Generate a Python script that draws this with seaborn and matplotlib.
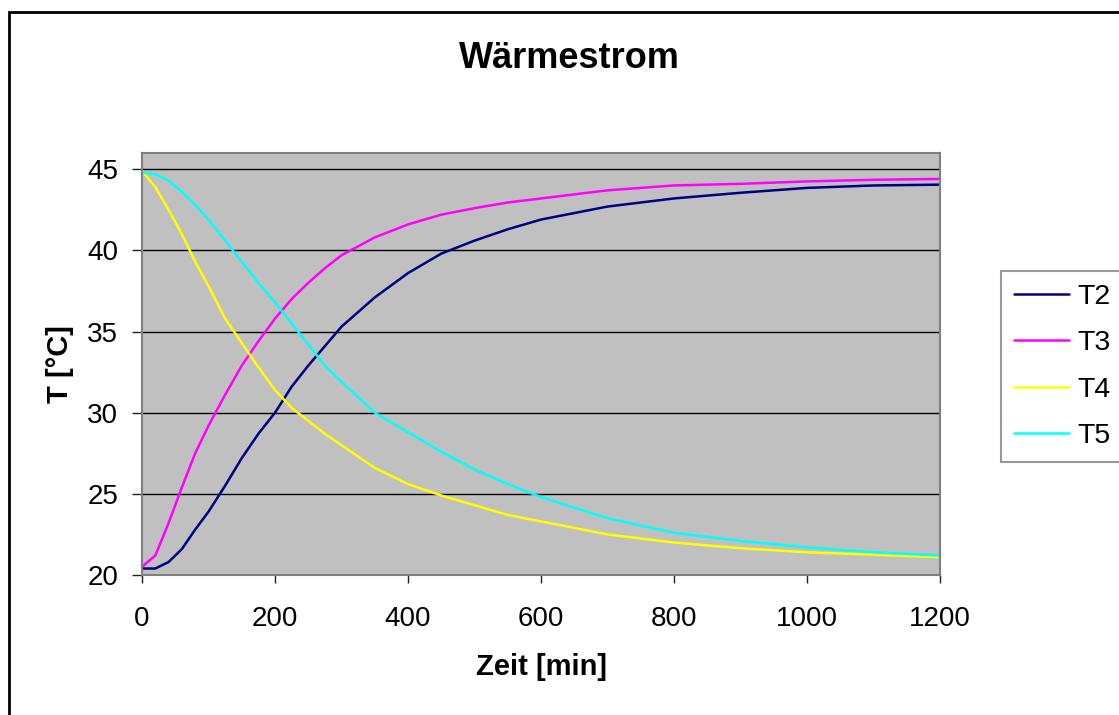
import matplotlib
matplotlib.use("Agg")
import matplotlib.pyplot as plt
import seaborn as sns
import pandas as pd
from matplotlib.patches import Rectangle

# ---- data ----
zeit = [0, 20, 40, 60, 80, 100, 125, 150, 175, 200, 225, 250, 275, 300,
        350, 400, 450, 500, 550, 600, 700, 800, 900, 1000, 1100, 1200]
T2 = [20.4, 20.4, 20.8, 21.6, 22.8, 23.9, 25.5, 27.2, 28.7, 30.0, 31.6, 32.9, 34.1, 35.3,
      37.1, 38.6, 39.8, 40.6, 41.3, 41.9, 42.7, 43.2, 43.55, 43.85, 44.0, 44.05]
T3 = [20.5, 21.2, 23.2, 25.4, 27.5, 29.2, 31.1, 32.9, 34.4, 35.8, 37.0, 38.0, 38.9, 39.7,
      40.8, 41.6, 42.2, 42.6, 42.95, 43.2, 43.7, 44.0, 44.1, 44.25, 44.35, 44.4]
T4 = [44.9, 43.9, 42.5, 41.0, 39.3, 37.8, 35.8, 34.3, 32.8, 31.4, 30.3, 29.5, 28.7, 28.0,
      26.6, 25.6, 24.9, 24.3, 23.7, 23.3, 22.5, 22.0, 21.65, 21.4, 21.25, 21.1]
T5 = [44.8, 44.7, 44.3, 43.6, 42.8, 41.9, 40.6, 39.3, 38.0, 36.8, 35.5, 34.2, 32.9, 31.9,
      30.0, 28.8, 27.6, 26.5, 25.6, 24.8, 23.5, 22.6, 22.1, 21.7, 21.4, 21.2]
series_names = ["T2", "T3", "T4", "T5"]
x_ticks = [0, 200, 400, 600, 800, 1000, 1200]
y_ticks = [20, 25, 30, 35, 40, 45]

colors = {"T2": "#000080", "T3": "#FF00FF", "T4": "#FFFF00", "T5": "#00FFFF"}

frames = []
for name, vals in zip(series_names, [T2, T3, T4, T5]):
    frames.append(pd.DataFrame({"Zeit": zeit, "T": vals, "Serie": name}))
df = pd.concat(frames, ignore_index=True)

sns.set_style("white")
plt.rcParams["font.family"] = ["Liberation Sans", "DejaVu Sans"]
plt.rcParams["text.color"] = "black"
plt.rcParams["axes.labelcolor"] = "black"
plt.rcParams["xtick.color"] = "black"
plt.rcParams["ytick.color"] = "black"

fig = plt.figure(figsize=(11.19, 7.15), dpi=100)
ax = fig.add_axes([142 / 1119, 1 - 575 / 715, 798 / 1119, 422 / 715])

sns.lineplot(data=df, x="Zeit", y="T", hue="Serie", palette=colors,
             hue_order=series_names, linewidth=1.8, ax=ax, legend=True)

ax.set_facecolor("#C0C0C0")
ax.set_xlim(0, 1200)
ax.set_ylim(20, 46)
ax.set_xticks(x_ticks)
ax.set_yticks(y_ticks)
ax.yaxis.grid(True, color="black", linewidth=1.0)
ax.xaxis.grid(False)
ax.set_axisbelow(True)
for sp in ax.spines.values():
    sp.set_visible(True)
    sp.set_color("#808080")
    sp.set_linewidth(1.5)

ax.tick_params(axis="x", direction="out", length=6, width=1, color="#202020",
               labelcolor="black", labelsize=20, pad=16, bottom=True)
ax.tick_params(axis="y", direction="out", length=7, width=1, color="#202020",
               labelcolor="black", labelsize=20, pad=10, left=True)

ax.set_xlabel("Zeit [min]", fontsize=21, fontweight="bold", color="black")
ax.set_ylabel("T [°C]", fontsize=21, fontweight="bold", color="black")
ax.xaxis.set_label_coords(0.5, -0.185)
ax.yaxis.set_label_coords(-0.085, 0.5)

fig.text(569.5 / 1119, 1 - 58 / 715, "Wärmestrom", fontsize=26, fontweight="bold",
         ha="center", va="center", color="black")

handles, labels = ax.get_legend_handles_labels()
ax.get_legend().remove()
leg = fig.legend(handles, labels, loc="upper left",
                 bbox_to_anchor=(1001 / 1119, 1 - 271 / 715), borderaxespad=0,
                 fontsize=20.5, frameon=True, fancybox=False, edgecolor="#808080",
                 handlelength=1.95, handletextpad=0.3, labelspacing=0.72,
                 borderpad=0.45)
leg.get_frame().set_linewidth(1.5)
for text in leg.get_texts():
    text.set_color("black")
for line in leg.get_lines():
    line.set_linewidth(1.8)

# outer chart frame
fig.patches.append(Rectangle((9 / 1119, -0.5), 2.0, 1.5 - 12 / 715,
                             transform=fig.transFigure, fill=False,
                             edgecolor="black", linewidth=2))

fig.savefig("out.png", dpi=100)
